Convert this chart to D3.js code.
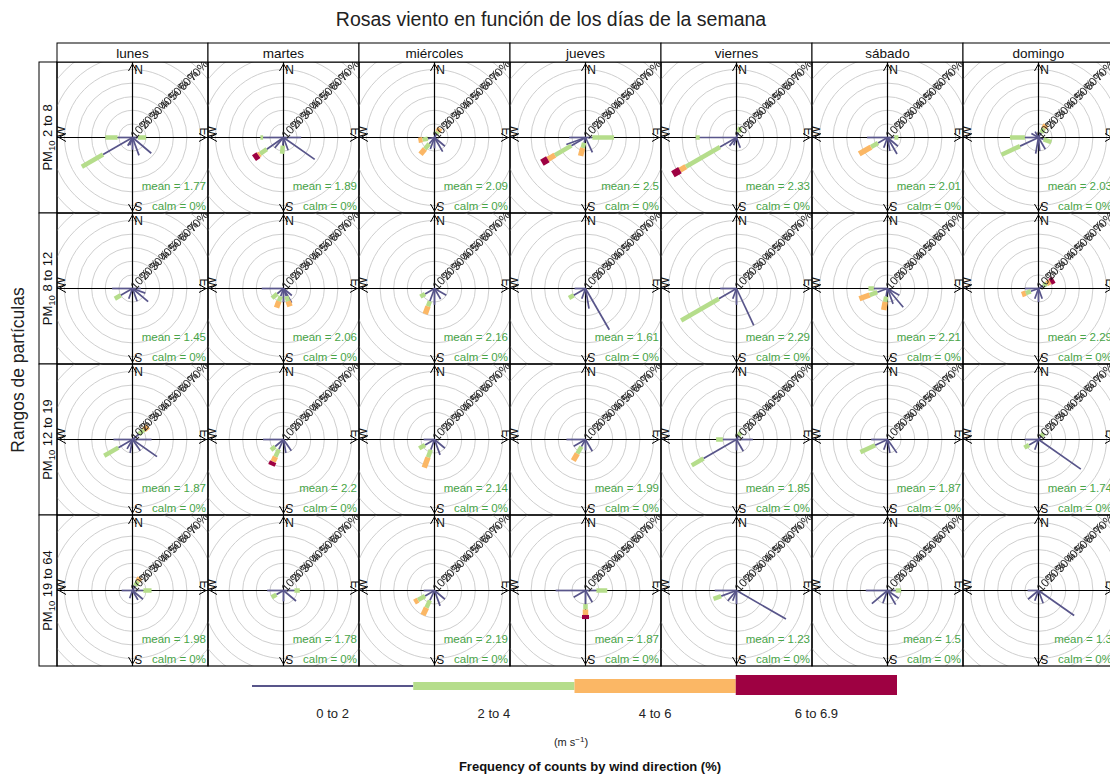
<!DOCTYPE html>
<html>
<head>
<meta charset="utf-8">
<script src="https://cdn.jsdelivr.net/npm/d3@7/dist/d3.min.js"></script>
<style>
body{margin:0;background:#fff}
svg{font-family:"Liberation Sans",Arial,sans-serif}
</style>
</head>
<body>
<svg width="1110" height="782"></svg>
<script>
// ---- data ----
var days = ["lunes","martes","miércoles","jueves","viernes","sábado","domingo"];
var pmRanges = ["2 to 8","8 to 12","12 to 19","19 to 64"];
var speedLabels = ["0 to 2","2 to 4","4 to 6","6 to 6.9"];
var speedColors = ["#58558a","#b5dd8b","#fbb765","#9e0142"];
var ringTicks = [10,20,30,40,50,60,70];

var meanRow1 = [1.77,1.89,2.09,2.5,2.33,2.01,2.03];
var meanRow2 = [1.45,2.06,2.16,1.61,2.29,2.21,2.29];
var meanRow3 = [1.87,2.2,2.14,1.99,1.85,1.87,1.74];
var meanRow4 = [1.98,1.78,2.19,1.87,1.23,1.5,1.3];

// per panel: [direction, %0-2, %2-4, %4-6, %6-6.9]
var roseRow1 = [
  [[270,11,9,0,0],[90,4,6,0,0],[240,25,18,0,0],[210,7,0,0,0],[180,9,0,0,0],[160,14,0,0,0],[130,18,0,0,0],[200,6,0,0,0]],
  [[270,15,2,0,0],[90,13,0,0,0],[235,15,6,1.5,4],[185,6,6,0,0],[125,28,0,0,0],[160,10,0,0,0],[220,10,0,0,0]],
  [[30,3,2,3,0],[220,6,5,5,0],[180,8,0,0,0],[150,12,0,0,0],[130,10,0,0,0],[260,5,4,3,0],[200,9,0,0,0]],
  [[90,5,16,0,0],[270,12,0,0,0],[250,15,0,0,0],[195,4,4,6,0],[155,12,0,0,0],[240,12,14,6,5]],
  [[270,27,3,0,0],[240,14,29,5,6],[20,4,4,0,0],[160,8,0,0,0],[200,6,0,0,0],[220,8,0,0,0]],
  [[240,8,6,10,0],[270,15,0,0,0],[150,14,0,0,0],[170,10,0,0,0],[130,10,0,0,0],[200,8,0,0,0],[90,5,3,0,0]],
  [[30,4,4,3,0],[270,10,11,0,0],[245,15,15,0,0],[190,12,0,0,0],[175,10,0,0,0],[150,10,0,0,0],[110,4,6,0,0],[300,6,0,0,0],[330,5,0,0,0]]
];
var roseRow2 = [
  [[270,15,0,0,0],[240,10,5,0,0],[200,8,0,0,0],[160,10,0,0,0],[130,15,0,0,0],[110,10,0,0,0],[90,6,0,0,0]],
  [[270,16,0,0,0],[200,6,4,5,0],[230,6,5,0,0],[180,10,0,0,0],[150,12,0,0,0],[130,8,0,0,0],[160,6,4,4,0]],
  [[200,10,4,6,0],[180,12,0,0,0],[120,10,0,0,0],[240,8,4,0,0],[150,9,0,0,0]],
  [[150,35,0,0,0],[170,15,0,0,0],[240,10,4,0,0],[270,8,0,0,0],[200,8,0,0,0]],
  [[240,15,32,0,0],[155,30,0,0,0],[180,12,0,0,0],[200,8,0,0,0],[270,12,0,0,0]],
  [[250,8,6,8,0],[270,10,4,0,0],[190,6,4,6,0],[140,18,0,0,0],[160,12,0,0,0],[120,10,0,0,0]],
  [[60,4,3,3,3],[270,10,0,0,0],[250,6,4,3,0],[180,10,0,0,0],[160,8,0,0,0],[200,8,0,0,0]]
];
var roseRow3 = [
  [[50,6,5,4,0],[270,14,0,0,0],[90,14,0,0,0],[240,12,12,0,0],[190,10,0,0,0],[125,22,0,0,0],[145,10,0,0,0],[210,8,0,0,0]],
  [[270,15,0,0,0],[205,8,6,4,3],[170,10,0,0,0],[145,10,0,0,0],[230,8,4,0,0]],
  [[200,8,6,8,0],[160,12,0,0,0],[130,10,0,0,0],[270,8,0,0,0],[240,8,5,0,0]],
  [[210,6,6,6,0],[270,14,0,0,0],[240,10,0,0,0],[180,8,0,0,0],[150,10,0,0,0]],
  [[240,28,10,0,0],[270,10,5,0,0],[90,12,0,0,0],[180,8,0,0,0],[150,10,0,0,0],[30,3,3,0,0]],
  [[245,10,12,0,0],[270,12,0,0,0],[170,10,0,0,0],[145,12,0,0,0],[200,8,0,0,0]],
  [[125,38,0,0,0],[270,10,0,0,0],[200,8,0,0,0],[240,8,4,0,0],[40,3,3,0,0]]
];
var roseRow4 = [
  [[30,4,4,3,0],[90,8,6,0,0],[270,8,0,0,0],[200,6,0,0,0],[150,8,0,0,0],[130,10,0,0,0]],
  [[270,12,0,0,0],[90,8,4,0,0],[240,6,4,0,0],[130,12,0,0,0],[180,8,0,0,0]],
  [[205,8,6,6,0],[240,8,6,3,0],[160,12,0,0,0],[130,10,0,0,0],[270,8,0,0,0]],
  [[180,10,4,4,3],[270,22,0,0,0],[90,8,8,0,0],[240,10,0,0,0],[150,10,0,0,0]],
  [[120,42,0,0,0],[270,16,0,0,0],[250,12,6,0,0],[200,8,0,0,0],[180,10,0,0,0],[220,10,0,0,0]],
  [[270,16,0,0,0],[230,15,0,0,0],[200,10,0,0,0],[150,12,0,0,0],[125,10,0,0,0],[90,6,4,0,0]],
  [[125,32,0,0,0],[270,8,0,0,0],[200,8,0,0,0],[160,10,0,0,0],[230,10,0,0,0]]
];

var roses = [roseRow1, roseRow2, roseRow3, roseRow4];
var means = [meanRow1, meanRow2, meanRow3, meanRow4];

// ---- layout ----
var svg = d3.select("svg");
var gridLeft = 57, gridTop = 62, size = 151;
var padW = [1.7, 4.5, 5.5, 7];

var x = d3.scaleBand().domain(days).range([gridLeft, gridLeft + size*days.length]);
var y = d3.scaleBand().domain(pmRanges).range([gridTop, gridTop + size*pmRanges.length]);
var r = d3.scaleLinear().domain([0, 10]).range([0, 13.6]);

svg.append("text")
  .attr("x", 551).attr("y", 26)
  .attr("text-anchor", "middle")
  .attr("font-size", 19.5).attr("fill", "#222")
  .text("Rosas viento en función de los días de la semana");

svg.append("text")
  .attr("transform", "translate(24,370) rotate(-90)")
  .attr("text-anchor", "middle")
  .attr("font-size", 17.5).attr("fill", "#222")
  .text("Rangos de partículas");

var defs = svg.append("defs");
defs.append("clipPath").attr("id", "panelclip")
  .append("rect").attr("width", size).attr("height", size);
// grayscale text smoothing for the crowded ring labels
defs.append("filter").attr("id", "flat")
  .append("feOffset").attr("dx", 0).attr("dy", 0);

pmRanges.forEach(function(pm, ri) {
  // left strip
  var sy = y(pm);
  svg.append("rect").attr("x", 39).attr("y", sy).attr("width", gridLeft - 39).attr("height", size)
    .attr("fill", "#fff").attr("stroke", "#000");
  var st = svg.append("text")
    .attr("transform", "translate(52," + (sy + size/2) + ") rotate(-90)")
    .attr("text-anchor", "middle").attr("font-size", 13).attr("fill", "#111");
  st.append("tspan").text("PM");
  st.append("tspan").attr("font-size", 9.5).attr("dy", 3).text("10");
  st.append("tspan").attr("dy", -3).text(" " + pm);

  days.forEach(function(day, ci) {
    var px = x(day), c = size/2;

    var g = svg.append("g").attr("transform", "translate(" + px + "," + sy + ")");
    var inner = g.append("g").attr("clip-path", "url(#panelclip)");

    inner.selectAll("circle.ring").data(ringTicks).enter().append("circle")
      .attr("cx", c).attr("cy", c).attr("r", function(d){ return r(d); })
      .attr("fill", "none").attr("stroke", "#cfcfcf").attr("stroke-width", 1);

    // axes
    inner.append("line").attr("x1", 0).attr("x2", size).attr("y1", c).attr("y2", c)
      .attr("stroke", "#000").attr("stroke-width", 1.2);
    inner.append("line").attr("x1", c).attr("x2", c).attr("y1", 0).attr("y2", size)
      .attr("stroke", "#000").attr("stroke-width", 1.2);

    // paddles
    var pg = inner.append("g").attr("transform", "translate(" + c + "," + c + ")");
    roses[ri][ci].forEach(function(p) {
      var dg = pg.append("g").attr("transform", "rotate(" + p[0] + ")");
      var cum = 0;
      for (var k = 0; k < 4; k++) {
        var v = p[k+1];
        if (v <= 0) { continue; }
        if (k === 0) {
          dg.append("line").attr("x1", 0).attr("x2", 0)
            .attr("y1", -r(cum)).attr("y2", -r(cum + v))
            .attr("stroke", speedColors[0]).attr("stroke-width", padW[0]);
        } else {
          dg.append("rect").attr("x", -padW[k]/2).attr("width", padW[k])
            .attr("y", -r(cum + v)).attr("height", r(cum + v) - r(cum))
            .attr("fill", speedColors[k]);
        }
        cum += v;
      }
    });

    // ring labels on the NE diagonal
    inner.append("g").attr("filter", "url(#flat)")
      .selectAll("text").data(ringTicks).enter().append("text")
      .attr("transform", function(d) {
        var rr = r(d);
        return "translate(" + (c + rr*0.707 + 1) + "," + (c - rr*0.707 + 3) + ") rotate(-48)";
      })
      .attr("text-anchor", "middle").attr("font-size", 11.5).attr("fill", "#1a1a1a")
      .text(function(d){ return d + "%"; });

    // compass marks
    var cm = inner.append("g").attr("stroke", "#000").attr("stroke-width", 1).attr("fill", "none");
    cm.append("path").attr("d", "M" + (c-4) + ",9 L" + c + ",2 L" + (c+4) + ",9");
    cm.append("path").attr("d", "M" + (c-4) + "," + (size-9) + " L" + c + "," + (size-2) + " L" + (c+4) + "," + (size-9));
    cm.append("path").attr("d", "M9," + (c-4) + " L2," + c + " L9," + (c+4));
    cm.append("path").attr("d", "M" + (size-9) + "," + (c-4) + " L" + (size-2) + "," + c + " L" + (size-9) + "," + (c+4));
    var lab = inner.append("g").attr("font-size", 12).attr("fill", "#111").attr("text-anchor", "middle");
    lab.append("text").attr("x", c + 6).attr("y", 12).text("N");
    lab.append("text").attr("transform", "translate(" + (size-8) + "," + (c - 6) + ") rotate(90)").text("E");
    lab.append("text").attr("transform", "translate(" + (c + 6) + "," + (size-11) + ") rotate(180)").text("S");
    lab.append("text").attr("transform", "translate(8," + (c - 6) + ") rotate(-90)").text("W");

    // mean / calm
    inner.append("text").attr("x", size - 2).attr("y", size - 23)
      .attr("text-anchor", "end").attr("font-size", 11.5).attr("fill", "#47a447")
      .text("mean = " + means[ri][ci]);
    inner.append("text").attr("x", size - 2).attr("y", size - 3)
      .attr("text-anchor", "end").attr("font-size", 11.5).attr("fill", "#47a447")
      .text("calm = 0%");

    g.append("rect").attr("width", size).attr("height", size)
      .attr("fill", "none").attr("stroke", "#000").attr("stroke-width", 1.2);
  });
});

// top strips
days.forEach(function(day) {
  svg.append("rect").attr("x", x(day)).attr("y", 43).attr("width", size).attr("height", gridTop - 43)
    .attr("fill", "#fff").attr("stroke", "#000");
  svg.append("text").attr("x", x(day) + size/2).attr("y", 57.5)
    .attr("text-anchor", "middle").attr("font-size", 13.5).attr("fill", "#111").text(day);
});

// ---- legend ----
var lx = d3.scaleBand().domain(speedLabels).range([252, 897]);
var legH = [2, 8, 14, 20];
var legY = 686;
svg.append("g").selectAll("rect").data(speedLabels).enter().append("rect")
  .attr("x", function(d){ return lx(d); })
  .attr("width", lx.bandwidth())
  .attr("y", function(d, i){ return legY - legH[i]/2 - (i === 3 ? 1 : 0); })
  .attr("height", function(d, i){ return legH[i]; })
  .attr("fill", function(d, i){ return speedColors[i]; });
svg.append("g").selectAll("text").data(speedLabels).enter().append("text")
  .attr("x", function(d){ return lx(d) + lx.bandwidth()/2; })
  .attr("y", 718).attr("text-anchor", "middle").attr("font-size", 13).attr("fill", "#222")
  .text(function(d){ return d; });

var u = svg.append("text").attr("x", 571).attr("y", 746).attr("text-anchor", "middle")
  .attr("font-size", 11).attr("fill", "#222");
u.append("tspan").text("(m s");
u.append("tspan").attr("dy", -4).attr("font-size", 8).text("−1");
u.append("tspan").attr("dy", 4).text(")");

svg.append("text").attr("x", 590).attr("y", 771).attr("text-anchor", "middle")
  .attr("font-size", 13).attr("font-weight", "bold").attr("fill", "#111")
  .text("Frequency of counts by wind direction (%)");
</script>
</body>
</html>
